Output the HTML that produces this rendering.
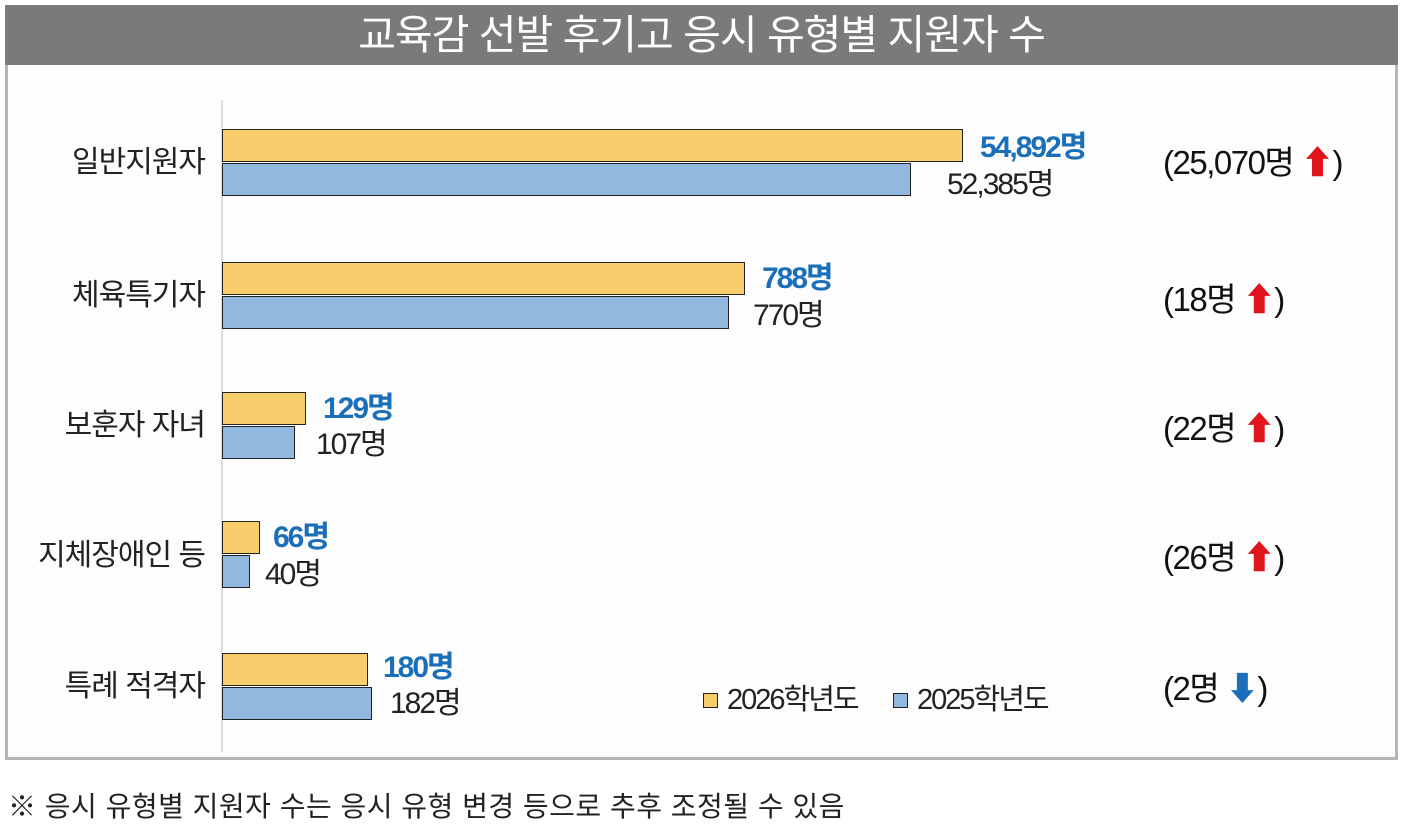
<!DOCTYPE html>
<html><head><meta charset="utf-8"><style>
body{margin:0;width:1405px;height:822px;background:#fff;position:relative;overflow:hidden;font-family:"Liberation Sans","Noto Sans CJK KR",sans-serif;}
.hdr{position:absolute;left:5px;top:5px;width:1393px;height:60px;background:#7a7a7a;color:#fff;font-size:41px;text-align:center;line-height:60px;letter-spacing:-1px}
.box{position:absolute;left:5px;top:65px;width:1387px;height:692px;border:3px solid #b5b5b5;border-top:none;background:#fdfdfd}
.axis{position:absolute;left:221px;top:100px;width:2px;height:652px;background:#ddd}
.bar{position:absolute;left:222px;height:33px;border:1.5px solid #222;box-sizing:border-box}
.y{background:#f8cd6c}.b{background:#93b8e0}
.t{position:absolute;font-size:30px;letter-spacing:-2px;white-space:nowrap;line-height:1}
.cat{right:1200px;text-align:right;color:#222;letter-spacing:-1px;font-size:30px}
.bl{color:#1a6fb8;font-weight:bold}.bk{color:#222}
.chg{position:absolute;left:1163px;font-size:33px;letter-spacing:-1.5px;color:#111;line-height:1}
.up{color:#e0141b}.dn{color:#1a6fb8}
.foot{position:absolute;left:8px;top:785px;font-size:28px;color:#222;letter-spacing:0.5px}
.lg{position:absolute;width:13px;height:13px;border:1.5px solid #222}
</style></head><body>
<div class="hdr">교육감 선발 후기고 응시 유형별 지원자 수</div>
<div class="box"></div>
<div class="axis"></div>

<div class="bar y" style="top:129px;width:741px"></div>
<div class="bar b" style="top:163px;width:689px"></div>
<div class="t cat" style="top:148px">일반지원자</div>
<div class="t bl" style="left:980px;top:133px">54,892명</div>
<div class="t bk" style="left:947px;top:170px">52,385명</div>
<div class="chg" style="top:146px">(25,070명 <span class="up">⬆</span>)</div>

<div class="bar y" style="top:262px;width:523px"></div>
<div class="bar b" style="top:296px;width:507px"></div>
<div class="t cat" style="top:281px">체육특기자</div>
<div class="t bl" style="left:762px;top:264px">788명</div>
<div class="t bk" style="left:753px;top:301px">770명</div>
<div class="chg" style="top:283px">(18명 <span class="up">⬆</span>)</div>

<div class="bar y" style="top:392px;width:84px"></div>
<div class="bar b" style="top:426px;width:73px"></div>
<div class="t cat" style="top:411px">보훈자 자녀</div>
<div class="t bl" style="left:323px;top:394px">129명</div>
<div class="t bk" style="left:316px;top:430px">107명</div>
<div class="chg" style="top:412px">(22명 <span class="up">⬆</span>)</div>

<div class="bar y" style="top:521px;width:38px"></div>
<div class="bar b" style="top:555px;width:28px"></div>
<div class="t cat" style="top:541px">지체장애인 등</div>
<div class="t bl" style="left:273px;top:523px">66명</div>
<div class="t bk" style="left:265px;top:560px">40명</div>
<div class="chg" style="top:541px">(26명 <span class="up">⬆</span>)</div>

<div class="bar y" style="top:653px;width:146px"></div>
<div class="bar b" style="top:687px;width:150px"></div>
<div class="t cat" style="top:672px">특례 적격자</div>
<div class="t bl" style="left:383px;top:653px">180명</div>
<div class="t bk" style="left:390px;top:689px">182명</div>
<div class="chg" style="top:672px">(2명 <span class="dn">⬇</span>)</div>

<div class="lg y" style="left:703px;top:693px"></div>
<div class="t bk" style="left:727px;top:686px;font-size:29px">2026학년도</div>
<div class="lg b" style="left:893px;top:693px"></div>
<div class="t bk" style="left:917px;top:686px;font-size:29px">2025학년도</div>

<div class="foot">※ 응시 유형별 지원자 수는 응시 유형 변경 등으로 추후 조정될 수 있음</div>
</body></html>
